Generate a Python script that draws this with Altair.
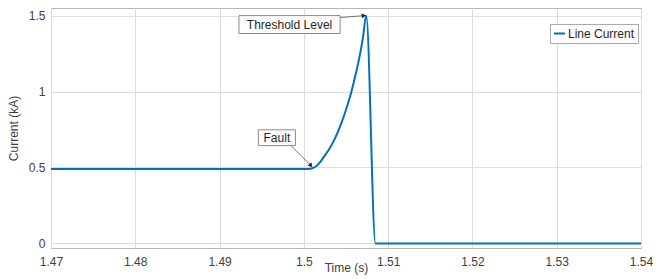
import altair as alt
import pandas as pd

# ---- data ----
times = [1.47, 1.50, 1.5005, 1.501, 1.5015, 1.502, 1.5025, 1.503, 1.5035, 1.504,
         1.5045, 1.505, 1.5055, 1.506, 1.5065, 1.507, 1.5074, 1.5085, 1.54]
current = [0.49, 0.49, 0.49, 0.495, 0.51, 0.54, 0.58, 0.62, 0.67, 0.73,
           0.80, 0.88, 0.97, 1.08, 1.20, 1.35, 1.50, 0.0, 0.0]
series_name = "Line Current"

x_ticks = [1.47, 1.48, 1.49, 1.50, 1.51, 1.52, 1.53, 1.54]
y_ticks = [0, 0.5, 1, 1.5]

# annotations (data units)
ann_text = ["Threshold Level", "Fault"]
ann_tx = [1.4983, 1.4968]
ann_ty = [1.441, 0.696]
box_x1 = [1.4923, 1.4946]
box_x2 = [1.5043, 1.4990]
box_y1 = [1.382, 0.644]
box_y2 = [1.500, 0.748]
arr_x1 = [1.50428, 1.49847]
arr_y1 = [1.487, 0.644]
arr_x2 = [1.50713, 1.50084]
arr_y2 = [1.500, 0.513]
arr_angle = [83, 136]

FONT = "Liberation Sans"
BLUE = "#0072BD"

df = pd.DataFrame({"t": times, "i": current, "series": series_name})
ann = pd.DataFrame({"text": ann_text, "tx": ann_tx, "ty": ann_ty,
                    "bx1": box_x1, "bx2": box_x2, "by1": box_y1, "by2": box_y2,
                    "ax1": arr_x1, "ay1": arr_y1, "ax2": arr_x2, "ay2": arr_y2,
                    "ang": arr_angle})

xs = alt.Scale(domain=[1.47, 1.54], nice=False, zero=False)
ys = alt.Scale(domain=[-0.03, 1.55], nice=False, zero=False)

line = alt.Chart(df).mark_line(strokeWidth=2, interpolate="monotone").encode(
    x=alt.X("t:Q", scale=xs,
            axis=alt.Axis(values=x_ticks, labelExpr="format(datum.value, '.2~f')",
                          title="Time (s)", grid=True, ticks=False, domain=False,
                          labelPadding=8, titlePadding=-5, labelFlush=False)),
    y=alt.Y("i:Q", scale=ys,
            axis=alt.Axis(values=y_ticks, labelExpr="format(datum.value, '.1~f')",
                          title="Current (kA)", grid=True, ticks=False, domain=False,
                          labelPadding=6, titlePadding=8)),
    color=alt.Color("series:N", scale=alt.Scale(domain=[series_name], range=[BLUE]),
                    legend=alt.Legend(title=None, orient="none", legendX=499, legendY=16,
                                      symbolType="stroke", symbolStrokeWidth=2, symbolSize=120,
                                      strokeColor="#aaaaaa", fillColor="white", padding=3,
                                      labelFontSize=12, labelFont=FONT, labelColor="#262626",
                                      labelOffset=2)),
)

arrows = alt.Chart(ann).mark_rule(color="#555555", strokeWidth=0.8).encode(
    x="ax1:Q", y="ay1:Q", x2="ax2:Q", y2="ay2:Q")
heads = alt.Chart(ann).mark_point(shape="triangle-up", filled=True, color="#222222",
                                  size=25, opacity=1).encode(
    x="ax2:Q", y="ay2:Q", angle=alt.Angle("ang:Q", scale=None))
boxes = alt.Chart(ann).mark_rect(fill="white", stroke="#8a8a8a", strokeWidth=1).encode(
    x="bx1:Q", x2="bx2:Q", y="by1:Q", y2="by2:Q")
texts = alt.Chart(ann).mark_text(font=FONT, fontSize=12, color="#262626").encode(
    x="tx:Q", y="ty:Q", text="text:N")

chart = alt.layer(line, arrows, heads, boxes, texts).properties(
    width=590, height=240,
    autosize=alt.AutoSizeParams(type="none"),
    padding={"left": 43, "top": 0, "right": 15, "bottom": 30},
).configure_view(stroke="#b5b5b5", strokeWidth=1).configure_axis(
    gridColor="#dcdcdc", gridWidth=1, labelFont=FONT, labelFontSize=12,
    labelColor="#404040", titleFont=FONT, titleFontSize=12, titleFontWeight="normal",
    titleColor="#404040",
)

chart.save("out.html", embed_options={"renderer": "svg", "actions": False})
